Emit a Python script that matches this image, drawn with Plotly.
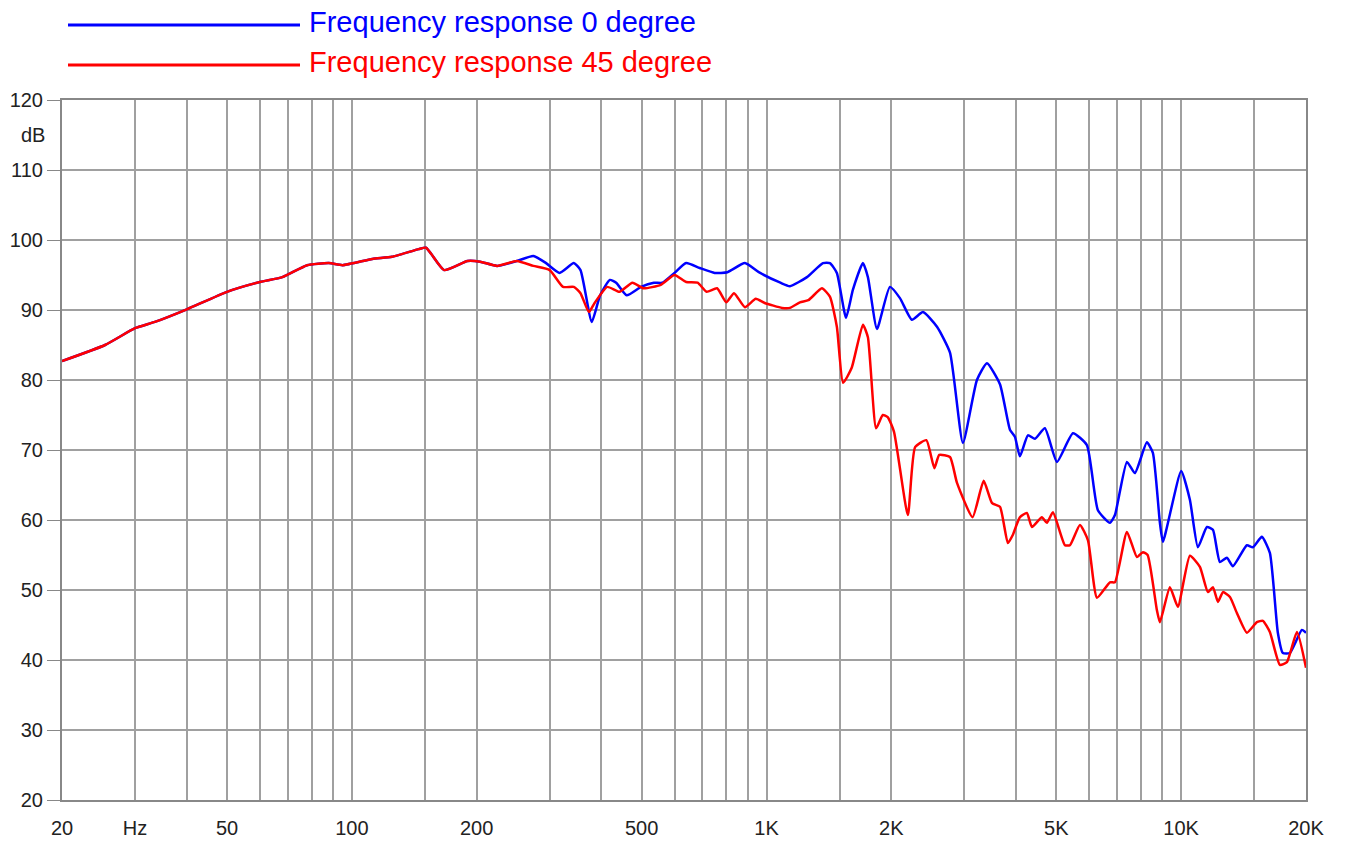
import plotly.graph_objects as go

# Shared low-frequency section (both curves identical up to ~250 Hz)
shared_freq = [20, 25.4, 30, 33.5, 40, 50, 60, 68, 78, 88, 95, 112, 125, 145, 151, 167, 190, 204, 224, 250]
shared_db = [82.7, 85.0, 87.4, 88.3, 90.1, 92.6, 94.0, 94.7, 96.4, 96.7, 96.4, 97.3, 97.6, 98.7, 98.9, 95.7, 97.0, 96.9, 96.3, 97.0]

# 0 degree (blue) above 250 Hz
blue_freq = [274, 294, 317, 343, 356, 379, 397, 419, 434, 460, 498, 535, 561, 600, 640, 690, 750, 805, 887, 958,
             1080, 1139, 1252, 1368, 1422, 1478, 1555, 1616, 1708, 1756, 1847, 1984, 2098, 2242, 2384, 2577, 2770,
             2976, 3217, 3401, 3656, 3864, 3972, 4084, 4270, 4440, 4692, 5016, 5482, 5924, 6298, 6732, 6922, 7400,
             7734, 8266, 8546, 8886, 9036, 10000, 10496, 10974, 11536, 11928, 12400, 12892, 13328, 14404, 14890,
             15652, 16364, 17106, 17588, 18286, 19548, 20000]
blue_db = [97.7, 96.7, 95.3, 96.7, 95.7, 88.3, 92.1, 94.3, 93.9, 92.1, 93.3, 93.9, 93.9, 95.3, 96.7, 96.0, 95.3, 95.4,
           96.7, 95.4, 93.9, 93.4, 94.7, 96.7, 96.7, 95.3, 88.9, 92.9, 96.7, 94.7, 87.3, 93.3, 91.7, 88.6, 89.7, 87.6,
           83.9, 71.0, 80.0, 82.4, 79.4, 72.9, 71.9, 69.1, 72.1, 71.6, 73.1, 68.3, 72.4, 70.7, 61.4, 59.6, 60.7, 68.3,
           66.7, 71.1, 69.6, 59.6, 56.9, 67.0, 62.9, 56.1, 59.0, 58.6, 54.0, 54.6, 53.4, 56.4, 56.1, 57.6, 55.3, 43.9,
           41.0, 41.0, 44.3, 43.9]

# 45 degree (red) above 250 Hz
red_freq = [274, 300, 323, 343, 356, 373, 385, 413, 442, 475, 505, 556, 600, 640, 682, 717, 760, 800, 835, 887, 942,
            990, 1090, 1139, 1204, 1262, 1360, 1422, 1478, 1530, 1604, 1708, 1756, 1838, 1907, 1960, 2030, 2192, 2282,
            2429, 2540, 2610, 2770, 2880, 3140, 3340, 3500, 3656, 3820, 3928, 4084, 4246, 4366, 4614, 4744, 4906, 5244,
            5392, 5700, 5960, 6266, 6732, 6922, 7400, 7822, 8086, 8300, 8740, 8886, 9394, 9820, 10496, 11096, 11600,
            11928, 12266, 12610, 13110, 13630, 14404, 15226, 15740, 16364, 17300, 17990, 19020, 20000]
red_db = [96.3, 95.7, 93.3, 93.3, 92.4, 89.7, 91.0, 93.3, 92.6, 93.9, 93.1, 93.6, 95.0, 94.0, 93.9, 92.6, 93.1, 91.1,
          92.4, 90.4, 91.6, 91.0, 90.3, 90.3, 91.1, 91.4, 93.1, 91.9, 87.6, 79.6, 81.7, 87.9, 86.1, 73.1, 75.0, 74.7,
          72.6, 60.7, 70.4, 71.4, 67.4, 69.3, 69.0, 65.3, 60.4, 65.6, 62.4, 61.9, 56.7, 57.9, 60.4, 61.0, 59.0, 60.4,
          59.6, 61.1, 56.4, 56.4, 59.3, 57.1, 48.9, 51.1, 51.1, 58.3, 54.7, 55.4, 55.0, 47.1, 45.4, 50.4, 47.6, 54.9,
          53.3, 49.7, 50.4, 48.3, 49.7, 49.0, 46.7, 43.9, 45.4, 45.6, 44.0, 39.3, 39.7, 44.0, 38.9]

legend_names = ["Frequency response 0 degree", "Frequency response 45 degree"]
x_tickvals = [20, 30, 50, 100, 200, 500, 1000, 2000, 5000, 10000, 20000]
x_ticktext = ["20", "Hz", "50", "100", "200", "500", "1K", "2K", "5K", "10K", "20K"]
x_gridvals = [20, 30, 40, 50, 60, 70, 80, 90, 100, 150, 200, 300, 400, 500, 600, 700, 800, 900, 1000, 1500,
              2000, 3000, 4000, 5000, 6000, 7000, 8000, 9000, 10000, 15000, 20000]
y_tickvals = [20, 30, 40, 50, 60, 70, 80, 90, 100, 110, 120]

BLUE = "#0000ff"
RED = "#ff0000"
GRID = "#a0a0a0"
FONT = "Liberation Sans, Arial, sans-serif"

fig = go.Figure()
fig.add_trace(go.Scatter(x=shared_freq + blue_freq, y=shared_db + blue_db, mode="lines",
                         line=dict(color=BLUE, width=2.5, shape="spline", smoothing=0.5),
                         name=legend_names[0], showlegend=False))
fig.add_trace(go.Scatter(x=shared_freq + red_freq, y=shared_db + red_db, mode="lines",
                         line=dict(color=RED, width=2.5, shape="spline", smoothing=0.5),
                         name=legend_names[1], showlegend=False))

# Body margin removed (post_script), plot area at x 62..1306, y 100..800
ML, MR, MT, MB = 62, 40, 100, 43
W, H = 1346, 843
PW = W - ML - MR
PH = H - MT - MB

def px_x(p):
    return (p - ML) / PW

def px_y(p):
    return (MT + PH - p) / PH

for i, (col, yy) in enumerate([(BLUE, 25), (RED, 65)]):
    fig.add_shape(type="line", xref="paper", yref="paper",
                  x0=px_x(68), x1=px_x(300), y0=px_y(yy), y1=px_y(yy),
                  line=dict(color=col, width=3))
    fig.add_annotation(xref="paper", yref="paper", x=px_x(307), y=px_y(yy - 3),
                       text=legend_names[i], showarrow=False, xanchor="left", yanchor="middle",
                       font=dict(family=FONT, size=29, color=col))

fig.add_annotation(xref="paper", yref="y", x=px_x(47), y=115, text="dB", showarrow=False,
                   xanchor="right", yanchor="middle",
                   font=dict(family=FONT, size=20, color="#222"))

fig.update_layout(
    width=W, height=H,
    margin=dict(l=ML, r=MR, t=MT, b=MB, autoexpand=False),
    paper_bgcolor="white", plot_bgcolor="white",
    font=dict(family=FONT, size=20, color="#222"),
    showlegend=False,
)
fig.update_xaxes(type="log", range=[1.30103, 4.30103], automargin=False,
                 tickvals=x_tickvals, ticktext=x_ticktext, ticks="", showgrid=False,
                 ticklabelstandoff=9,
                 minor=dict(tickvals=x_gridvals, showgrid=True, gridcolor=GRID, gridwidth=2, ticks=""),
                 showline=True, linecolor="#888", linewidth=2, mirror=True, zeroline=False)
fig.update_yaxes(range=[20, 120], automargin=False, tickvals=y_tickvals, ticks="outside", ticklen=13,
                 tickcolor="#888",
                 showgrid=True, gridcolor=GRID, gridwidth=2,
                 showline=True, linecolor="#888", linewidth=2, mirror=True, zeroline=False)

fig.write_html("out.html", config={"displayModeBar": False},
               post_script="document.body.style.margin='0px';document.body.style.overflow='hidden';")
